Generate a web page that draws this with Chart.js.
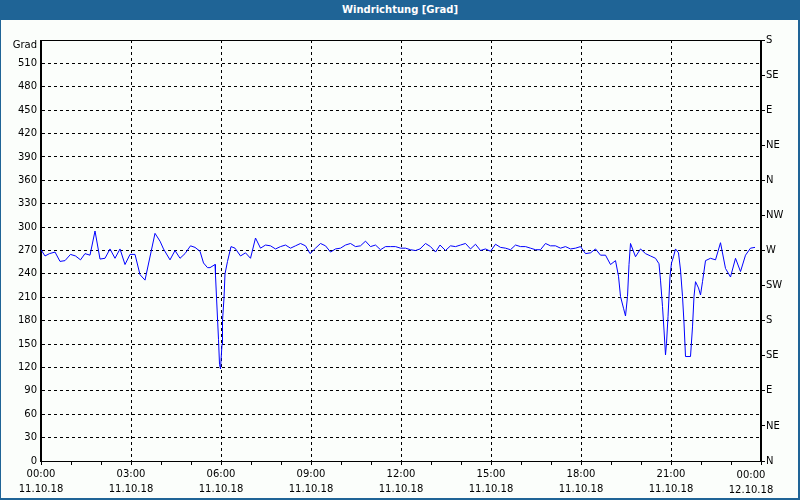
<!DOCTYPE html>
<html>
<head>
<meta charset="utf-8">
<script src="https://cdn.jsdelivr.net/npm/chart.js@4.4.0/dist/chart.umd.min.js"></script>
<style>
  body { margin: 0; }
  #frame { position: relative; width: 797px; height: 478px; padding-top: 20px;
    border-left: 1px solid #1f6496; border-right: 2px solid #1f6496; border-bottom: 2px solid #1f6496;
    background: #fbfefb; }
  #title { position: absolute; top: 0; left: -1px; width: 800px; height: 20px; background: #1f6496;
    color: #fff; font: bold 10px "DejaVu Sans"; text-align: center; line-height: 20px; }
  #wrap { width: 797px; height: 478px; }
</style>
</head>
<body>
<div id="frame">
  <div id="title">Windrichtung [Grad]</div>
  <div id="wrap"><canvas id="windChart"></canvas></div>
</div>
<script>
// minutes since 00:00 on 11.10.18
const minutes = [0, 8, 17, 28, 38, 48, 59, 69, 79, 88, 98, 108, 118, 128, 138, 148, 158, 168, 178, 188,
  198, 208, 228, 238, 245, 258, 268, 278, 288, 299, 308, 318, 325, 333, 338, 348, 349, 351, 355, 357,
  359, 362, 363, 366, 368, 373, 380, 388, 399, 409, 419, 429, 439, 449, 459, 469, 479, 489, 499, 509,
  519, 529, 538, 549, 559, 569, 579, 589, 599, 609, 619, 629, 639, 649, 659, 669, 679, 689, 699, 709,
  719, 729, 739, 749, 758, 769, 779, 789, 798, 809, 819, 829, 839, 849, 859, 869, 879, 889, 899, 909,
  919, 929, 939, 949, 959, 969, 979, 989, 999, 1009, 1019, 1029, 1039, 1049, 1059, 1069, 1079, 1089, 1099, 1109,
  1119, 1129, 1139, 1149, 1155, 1159, 1165, 1169, 1173, 1176, 1179, 1189, 1199, 1209, 1219, 1229, 1236, 1239, 1243, 1246,
  1249, 1251, 1254, 1258, 1261, 1265, 1269, 1275, 1279, 1283, 1286, 1289, 1299, 1303, 1306, 1309, 1315, 1319, 1323, 1329,
  1339, 1349, 1359, 1369, 1379, 1389, 1399, 1409, 1419, 1428];
const direction = [271, 263, 266, 268, 256, 257, 265, 263, 258, 266, 264, 295, 259, 260, 272, 260, 272, 252, 265, 265,
  239, 232, 292, 282, 272, 258, 270, 260, 266, 276, 274, 269, 254, 248, 248, 252, 238, 210, 156, 124,
  118, 150, 180, 209, 240, 256, 275, 273, 263, 267, 260, 286, 273, 277, 276, 272, 275, 277, 273, 276,
  279, 276, 266, 273, 279, 276, 268, 272, 273, 277, 279, 275, 276, 282, 275, 277, 271, 275, 275, 275,
  273, 273, 271, 270, 272, 279, 275, 268, 277, 270, 276, 275, 277, 279, 272, 278, 270, 272, 269, 278,
  274, 273, 271, 277, 275, 275, 273, 271, 271, 279, 276, 276, 273, 275, 272, 273, 275, 266, 267, 272,
  264, 264, 252, 257, 237, 211, 196, 186, 211, 252, 279, 262, 272, 266, 263, 260, 253, 232, 198, 168,
  136, 151, 185, 237, 254, 262, 272, 267, 245, 211, 177, 134, 134, 172, 211, 230, 222, 213, 230, 257,
  260, 258, 280, 247, 236, 260, 243, 264, 273, 274];

const timeLabels = ["00:00", "03:00", "06:00", "09:00", "12:00", "15:00", "18:00", "21:00", "00:00"];
const dateLabels = ["11.10.18", "11.10.18", "11.10.18", "11.10.18", "11.10.18", "11.10.18", "11.10.18", "11.10.18", "12.10.18"];
const compassLabels = ["N", "NE", "E", "SE", "S", "SW", "W", "NW", "N", "NE", "E", "SE", "S"];
const unitLabel = "Grad";

Chart.defaults.font.family = "DejaVu Sans";
Chart.defaults.font.size = 10;
Chart.defaults.color = "#000";

// solid frame, unit label and the last (shifted) time label
const framePlugin = {
  id: "framePlugin",
  afterDraw(chart) {
    const { ctx, chartArea: a } = chart;
    ctx.save();
    ctx.strokeStyle = "#000";
    ctx.lineWidth = 1;
    ctx.strokeRect(Math.round(a.left) - 0.5, Math.round(a.top) + 0.5, Math.round(a.right - a.left), Math.round(a.bottom - a.top));
    ctx.fillStyle = "#000";
    ctx.font = "10px 'DejaVu Sans'";
    ctx.textAlign = "right";
    ctx.textBaseline = "middle";
    ctx.fillText(unitLabel, a.left - 4, a.top + 5);
    const last = timeLabels.length - 1;
    const x = chart.scales.x.getPixelForValue(1440) - 10;
    ctx.textAlign = "center";
    ctx.fillText(timeLabels[last], x, a.bottom + 14);
    ctx.fillText(dateLabels[last], x, a.bottom + 29);
    ctx.restore();
  }
};

new Chart(document.getElementById("windChart"), {
  type: "line",
  data: {
    datasets: [{
      data: minutes.map((m, i) => ({ x: m, y: direction[i] })),
      borderColor: "#0000ff",
      borderWidth: 1,
      pointRadius: 0,
      tension: 0,
      fill: false
    }]
  },
  options: {
    responsive: true,
    maintainAspectRatio: false,
    animation: false,
    layout: { padding: { top: 20 } },
    plugins: { legend: { display: false }, tooltip: { enabled: false } },
    scales: {
      x: {
        type: "linear",
        min: 0, max: 1440,
        afterFit: s => { s.height = 37; },
        border: { color: "#000", dash: [3, 3] },
        grid: {
          color: c => (c.tick && c.tick.value % 180 === 0) ? "#000" : "transparent",
          tickColor: "#000", tickLength: 4, tickBorderDash: []
        },
        ticks: {
          stepSize: 60, autoSkip: false, maxRotation: 0, padding: 2,
          font: { lineHeight: 1.5 },
          callback: v => (v % 180 === 0 && v < 1440) ? [timeLabels[v / 180], dateLabels[v / 180]] : ""
        }
      },
      y: {
        position: "left",
        min: 0, max: 540,
        afterFit: s => { s.width = 40; },
        border: { color: "#000", dash: [3, 3] },
        grid: { color: "#000", drawTicks: false },
        ticks: { stepSize: 30, padding: 4, callback: v => v === 540 ? "" : v }
      },
      y2: {
        position: "right",
        min: 0, max: 540,
        afterFit: s => { s.width = 37; },
        border: { color: "#000" },
        grid: { drawOnChartArea: false, tickColor: "#000", tickLength: 4 },
        ticks: { stepSize: 45, padding: 1, callback: v => compassLabels[v / 45] }
      }
    }
  },
  plugins: [framePlugin]
});
</script>
</body>
</html>
